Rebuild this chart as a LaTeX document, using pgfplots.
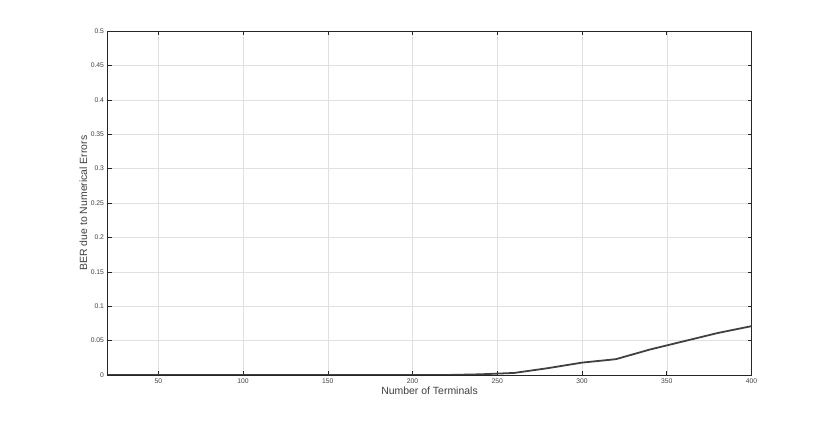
\documentclass[border=0pt]{standalone}
\usepackage{pgfplots}
\pgfplotsset{compat=1.18}
\usepackage{fontspec}
\setmainfont{Liberation Sans}
\definecolor{axgray}{HTML}{262626}
\definecolor{lblgray}{HTML}{404040}
\definecolor{linegray}{HTML}{404040}
\begin{document}
\begin{tikzpicture}
\useasboundingbox (0,0) rectangle (830bp,422bp);
\begin{axis}[
  at={(107.5bp,47bp)}, anchor=south west,
  scale only axis, width=644bp, height=344bp,
  xmin=20, xmax=400, ymin=0, ymax=0.5,
  xtick={50,100,...,400},
  ytick={0,0.05,...,0.5},
  scaled y ticks=false,
  yticklabel style={/pgf/number format/fixed,/pgf/number format/precision=2},
  /pgf/number format/assume math mode=true,
  tick label style={font=\fontsize{6.8}{8}\selectfont, color=lblgray},
  grid=major,
  major grid style={color=black!12, line width=0.5pt},
  tick align=inside,
  major tick length=4bp,
  tick style={color=axgray, line width=0.6pt},
  axis line style={color=axgray, line width=0.7pt},
  xlabel={Number of Terminals},
  ylabel={BER due to Numerical Errors},
  label style={font=\fontsize{10.5}{12}\selectfont, color=lblgray},
  xlabel style={at={(axis description cs:0.5,0)}, anchor=center, yshift=-16bp},
  ylabel style={at={(axis description cs:0,0.5)}, anchor=center, yshift=24bp},
]
\addplot[color=linegray, line width=1.8pt] coordinates {
(20,0) (40,0) (60,0) (80,0) (100,0) (120,0) (140,0) (160,0) (180,0) (200,0)
(220,0) (240,0.001) (260,0.003) (280,0.010) (300,0.018) (320,0.023)
(340,0.037) (360,0.049) (380,0.061) (400,0.071)
};
\end{axis}
\end{tikzpicture}
\end{document}
